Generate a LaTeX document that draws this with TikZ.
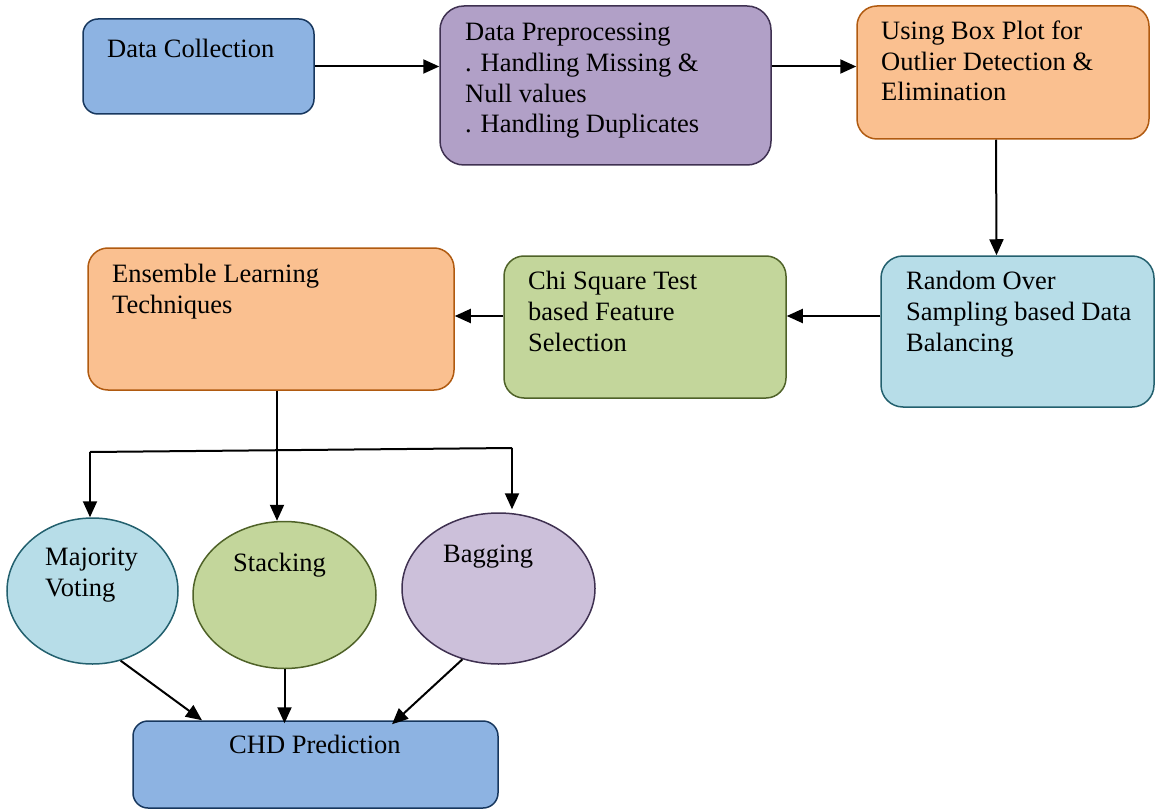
\documentclass[tikz,border=0pt]{standalone}
\usepackage{fontspec}
\setmainfont{Liberation Serif}
\usetikzlibrary{arrows.meta,shapes.geometric}

\definecolor{blueF}{HTML}{8DB3E2}\definecolor{blueL}{HTML}{17375E}
\definecolor{purpF}{HTML}{B1A0C7}\definecolor{purpL}{HTML}{3F3151}
\definecolor{orngF}{HTML}{FAC090}\definecolor{orngL}{HTML}{B05A10}
\definecolor{cyanF}{HTML}{B7DDE8}\definecolor{cyanL}{HTML}{23606E}
\definecolor{grenF}{HTML}{C3D69B}\definecolor{grenL}{HTML}{4F6228}
\definecolor{lavF}{HTML}{CCC0DA}

\tikzset{
  stage/.style={rectangle, inner sep=0pt, line width=1.5pt},
  oval/.style={ellipse, inner sep=0pt, line width=1.5pt},
  % labels are placed by the baseline of their last line
  txt/.style={anchor=base west, inner sep=0pt, align=left,
    font=\fontsize{26.5}{30.7}\selectfont},
  arr/.style={line width=2pt, -{Triangle[length=16pt,width=14pt]}},
}

% box placed by its corners: #1 name, #2 style, (x1,y1) (x2,y2), #7 corner radius
\newcommand\stagebox[7]{%
  \node[stage,#2,rounded corners=#7, minimum width={#5-#3}, minimum height={#6-#4}]
    (#1) at ({(#3+#5)/2},{(#4+#6)/2}) {};}

\begin{document}
\begin{tikzpicture}[x=1pt,y=-1pt]
\useasboundingbox (0,0) rectangle (1155,810);

% process stages
\stagebox{dc}{fill=blueF,draw=blueL}{83}{19}{314}{114}{15pt}
\stagebox{dp}{fill=purpF,draw=purpL}{440}{6}{771}{165}{24pt}
\stagebox{bp}{fill=orngF,draw=orngL}{857}{6}{1149}{139}{20pt}
\stagebox{rd}{fill=cyanF,draw=cyanL}{881}{256}{1154}{407}{22pt}
\stagebox{ch}{fill=grenF,draw=grenL}{504}{256}{786}{398}{20pt}
\stagebox{en}{fill=orngF,draw=orngL}{88}{248}{454}{390}{20pt}
\stagebox{cp}{fill=blueF,draw=blueL}{133}{721}{498}{808}{15pt}

% ensemble methods
\node[oval,fill=cyanF,draw=cyanL,minimum width=171pt,minimum height=146pt] (mv) at (92.5,591) {};
\node[oval,fill=grenF,draw=grenL,minimum width=183pt,minimum height=147pt] (st) at (284.5,595) {};
\node[oval,fill=lavF,draw=purpL,minimum width=193pt,minimum height=151pt] (bg) at (498.5,588.5) {};

% labels
\node[txt] (tdc) at (107,58) {Data Collection};
\node[txt] (tdp) at (465,133) {Data Preprocessing\\. Handling Missing \&\\Null values\\. Handling Duplicates};
\node[txt] (tbp) at (881,101) {Using Box Plot for\\Outlier Detection \&\\Elimination};
\node[txt] (trd) at (906,351) {Random Over\\Sampling based Data\\Balancing};
\node[txt] (tch) at (528,351) {Chi Square Test\\based Feature\\Selection};
\node[txt] (ten) at (112,313) {Ensemble Learning\\Techniques};
\node[txt] (tmv) at (45,596) {Majority\\Voting};
\node[txt] (tst) at (233,571) {Stacking};
\node[txt] (tbg) at (443,562) {Bagging};
\node[txt] (tcp) at (229,753) {CHD Prediction};

% flow
\coordinate (row2) at (0,316);
\coordinate (fl) at (90,452);
\coordinate (fr) at (512,448);
\coordinate (fm) at (277,452);

\draw[arr] (dc.east) -- (dp.west |- dc.east);
\draw[arr] (dp.east |- dc.east) -- (bp.west |- dc.east);
\draw[arr] ([xshift=-7pt]bp.south) -- ([xshift=-21pt]rd.north);
\draw[arr] (rd.west |- row2) -- (ch.east |- row2);
\draw[arr] (ch.west |- row2) -- (en.east |- row2);
\draw[arr] (en.south -| fm) -- (st.north -| fm);
\draw[line width=2pt] (fl) -- (fr);
\draw[arr] (fl) -- (fl |- mv.north);
\draw[arr] (fr) -- ([yshift=3pt]fr |- bg.north);
\draw[arr] (mv.-68) -- ([xshift=-113.5pt]cp.north);
\draw[arr] (st.south) -- ([yshift=-3pt]cp.north -| st.south);
\draw[arr] (bg.-117) -- ([xshift=76.5pt,yshift=-4pt]cp.north);
\end{tikzpicture}
\end{document}
